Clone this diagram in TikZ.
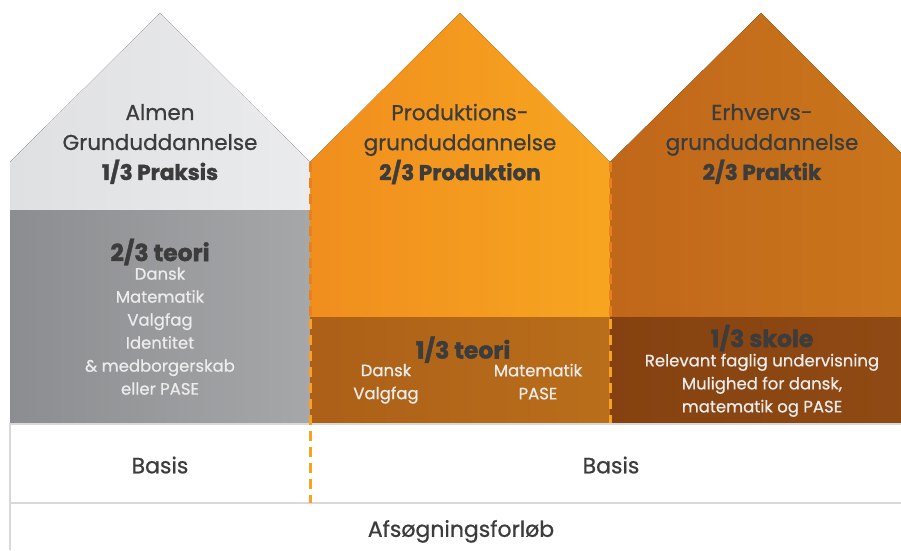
\documentclass[tikz,border=0pt]{standalone}
\usepackage{fontspec}
\setmainfont{Poppins}[UprightFeatures={RawFeature={embolden=0.7}}, BoldFeatures={RawFeature={embolden=1.6}}]
\definecolor{txtdark}{HTML}{3C3C3C}
\definecolor{txtlight}{HTML}{ECECEC}
\definecolor{gtopA}{HTML}{DEE0E2}
\definecolor{gtopB}{HTML}{EAEBED}
\definecolor{gboxA}{HTML}{8C8D90}
\definecolor{gboxB}{HTML}{A6A7A9}
\definecolor{otopA}{HTML}{F08E1E}
\definecolor{otopB}{HTML}{F7A520}
\definecolor{oboxA}{HTML}{AC6018}
\definecolor{oboxB}{HTML}{B96E1B}
\definecolor{rtopA}{HTML}{C0671A}
\definecolor{rtopB}{HTML}{CA761C}
\definecolor{rboxA}{HTML}{854210}
\definecolor{rboxB}{HTML}{904A14}
\definecolor{dashA}{HTML}{EA7F20}
\definecolor{dashB}{HTML}{F7A321}
\definecolor{rule}{HTML}{D9D9D9}
\tikzset{
  allstrut/.style={execute at begin node=\strut, execute at end node=\strut},
  headtxt/.style={allstrut, font=\fontsize{21.5}{30}\selectfont, text=txtdark, align=center, inner sep=0pt},
  lighttxt/.style={allstrut, font=\fontsize{16.5}{23}\selectfont, text=txtlight, align=center, inner sep=0pt},
  boldtxt/.style={allstrut, font=\fontsize{23.5}{24}\selectfont\bfseries, text=txtdark, align=center, inner sep=0pt},
  basetxt/.style={allstrut, font=\fontsize{22}{24}\selectfont, text=txtdark, inner sep=0pt},
  dashline/.style={line width=3pt, dash pattern=on 10pt off 6pt},
  ruleline/.style={draw=rule, line width=1.2pt}
}
\begin{document}
\begin{tikzpicture}[x=1pt,y=-1pt]
\useasboundingbox (0,0) rectangle (901,550);
\fill[white] (0,0) rectangle (901,550);
\clip (0,0) rectangle (901,550);
% house 1
\fill[left color=gtopA, right color=gtopB] (10,210) -- (10,162) -- (160,13) -- (310,162) -- (310,210) -- cycle;
\fill[left color=gboxA, right color=gboxB] (10,210) rectangle (310,423);
% house 2
\fill[left color=otopA, right color=otopB] (310,317) -- (310,162) -- (460,13) -- (610,162) -- (610,317) -- cycle;
\fill[left color=oboxA, right color=oboxB] (310,317) rectangle (610,423);
% house 3
\fill[left color=rtopA, right color=rtopB] (610,317) -- (610,162) -- (761,13) -- (912,164) -- (912,317) -- cycle;
\fill[left color=rboxA, right color=rboxB] (610,317) rectangle (912,423);
% rules
\draw[ruleline] (10,424) -- (901,424);
\draw[ruleline] (10,503) -- (901,503);
\draw[ruleline] (10,423) -- (10,550);
% dashed separators
\draw[dashline, dashA] (310,162) -- (310,317);
\draw[dashline, dashB] (310,319) -- (310,503);
\draw[dashline, dashA] (610,162) -- (610,317);
\draw[dashline, dashB] (610,319) -- (610,423);
% texts house 1
\node[headtxt] (h1) at (160,146.5) {Almen\\Grunduddannelse\\\textbf{1/3 Praksis}};
\node[boldtxt] (t1) at (160,253.5) {2/3 teori};
\node[lighttxt] (l1) at (160,334.5) {Dansk\\Matematik\\Valgfag\\Identitet\\\& medborgerskab\\eller PASE};
% texts house 2
\node[headtxt] (h2) at (460,146.5) {Produktions-\\grunduddannelse\\\textbf{2/3 Produktion}};
\node[boldtxt] (t2) at (463,351) {1/3 teori};
\node[lighttxt] (l2a) at (386,385) {Dansk\\Valgfag};
\node[lighttxt] (l2b) at (538,385) {Matematik\\PASE};
% texts house 3
\node[headtxt] (h3) at (762,146.5) {Erhvervs-\\grunduddannelse\\\textbf{2/3 Praktik}};
\node[boldtxt] (t3) at (762,339.5) {1/3 skole};
\node[lighttxt] (l3) at (762,386.5) {Relevant faglig undervisning\\Mulighed for dansk,\\matematik og PASE};
% bottom
\node[basetxt] (b1) at (160,468.5) {Basis};
\node[basetxt] (b2) at (611,468.5) {Basis};
\node[basetxt] (af) at (461,532) {Afsøgningsforløb};
\end{tikzpicture}
\end{document}
